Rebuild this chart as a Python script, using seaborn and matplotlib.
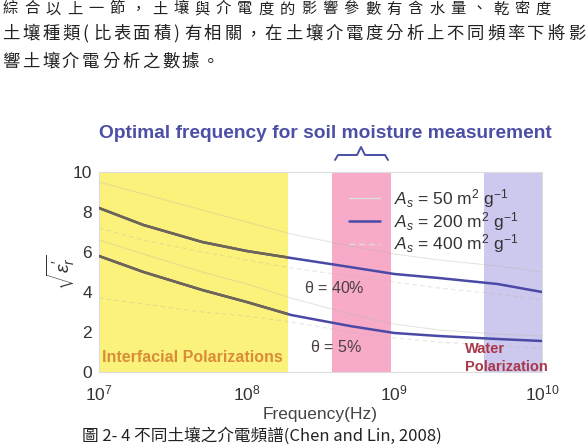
import numpy as np
import pandas as pd
import matplotlib
matplotlib.use("Agg")
import matplotlib.pyplot as plt
import seaborn as sns
from matplotlib.patches import Rectangle
from matplotlib.lines import Line2D

# ---------------- data ----------------
freq_hz = [1e7, 2e7, 5e7, 1e8, 2e8, 5e8, 1e9, 2e9, 5e9, 1e10]
eps_40_as200 = [8.2, 7.35, 6.5, 6.05, 5.7, 5.25, 4.9, 4.7, 4.4, 4.0]
eps_5_as200 = [5.8, 5.0, 4.1, 3.5, 2.85, 2.3, 1.95, 1.8, 1.65, 1.55]
eps_40_as50 = [9.5, 8.9, 8.1, 7.5, 6.9, 6.3, 5.9, 5.6, 5.3, 5.0]
eps_40_as400 = [7.2, 6.6, 6.0, 5.6, 5.2, 4.8, 4.5, 4.2, 3.9, 3.6]
eps_5_as50 = [6.6, 5.9, 5.0, 4.4, 3.7, 2.9, 2.4, 2.1, 1.9, 1.8]
eps_5_as400 = [3.7, 3.4, 3.0, 2.8, 2.5, 2.0, 1.7, 1.5, 1.3, 1.2]

band_interfacial = (1e7, 1.9e8)
band_optimal = (3.8e8, 9.5e8)
band_water = (4.05e9, 1e10)

xtick_vals = [1e7, 1e8, 1e9, 1e10]
xtick_labels = [r"$10^{7}$", r"$10^{8}$", r"$10^{9}$", r"$10^{10}$"]
ytick_vals = [0, 2, 4, 6, 8, 10]

legend_labels = [r"$A_s$ = 50 m$^2$ g$^{-1}$",
                 r"$A_s$ = 200 m$^2$ g$^{-1}$",
                 r"$A_s$ = 400 m$^2$ g$^{-1}$"]

title_text = "Optimal frequency for soil moisture measurement"
para_line1 = "綜合以上一節，土壤與介電度的影響參數有含水量、乾密度"
para_line2 = "土壤種類(比表面積)有相關，在土壤介電度分析上不同頻率下將影"
para_line3 = "響土壤介電分析之數據。"
caption = "圖 2- 4 不同土壤之介電頻譜(Chen and Lin, 2008)"

# ---------------- style ----------------
sns.set_style("white")
plt.rcParams["font.family"] = ["Liberation Sans", "DejaVu Sans"]
plt.rcParams["mathtext.fontset"] = "custom"
plt.rcParams["mathtext.rm"] = "Liberation Sans"
plt.rcParams["mathtext.it"] = "Liberation Sans:italic"
plt.rcParams["mathtext.bf"] = "Liberation Sans:bold"

W, H = 586, 447
fig = plt.figure(figsize=(W / 100, H / 100), dpi=100)
fig.patch.set_facecolor("white")

left_px, right_px, top_px, bottom_px = 99, 542, 172, 372
ax = fig.add_axes([left_px / W, 1 - bottom_px / H,
                   (right_px - left_px) / W, (bottom_px - top_px) / H])
ax.set_xscale("log")
ax.set_xlim(1e7, 1e10)
ax.set_ylim(0, 10)

# bands
ax.axvspan(*band_interfacial, color="#fbf27c", lw=0, zorder=0)
ax.axvspan(*band_optimal, color="#f7abc9", lw=0, zorder=0)
ax.axvspan(*band_water, color="#cdc8ee", lw=0, zorder=0)

df = pd.DataFrame({"f": freq_hz,
                   "a40_200": eps_40_as200, "a5_200": eps_5_as200,
                   "a40_50": eps_40_as50, "a40_400": eps_40_as400,
                   "a5_50": eps_5_as50, "a5_400": eps_5_as400})

faint = "#b8b5a6"
for col in ["a40_50", "a5_50"]:
    sns.lineplot(data=df, x="f", y=col, ax=ax, color=faint, lw=0.8,
                 alpha=0.35, zorder=2)
for col in ["a40_400", "a5_400"]:
    sns.lineplot(data=df, x="f", y=col, ax=ax, color=faint, lw=0.8,
                 alpha=0.35, ls=(0, (4, 3)), zorder=2)

blue = "#4a4aa6"
for col in ["a40_200", "a5_200"]:
    sns.lineplot(data=df, x="f", y=col, ax=ax, color=blue, lw=1.8, zorder=3)
    sns.lineplot(data=df, x="f", y=col, ax=ax, color="#6e6553", lw=1.8, zorder=4)
    clip = Rectangle((band_interfacial[0], 0),
                     band_interfacial[1] - band_interfacial[0], 10,
                     transform=ax.transData)
    ax.lines[-1].set_clip_path(clip)

# axes look
for s in ax.spines.values():
    s.set_color("#dddddd")
    s.set_linewidth(0.8)
ax.set_xticks(xtick_vals)
ax.set_xticklabels(xtick_labels)
ax.set_yticks(ytick_vals)
ax.xaxis.set_minor_locator(matplotlib.ticker.NullLocator())
ax.tick_params(axis="both", length=0, labelsize=12.5, colors="#333333")
ax.tick_params(axis="x", pad=8)
ax.tick_params(axis="y", pad=5)
ax.set_xlabel("Frequency(Hz)", fontsize=12.5, color="#444444", labelpad=3)
ax.set_ylabel(r"$\sqrt{\varepsilon_r^{\prime}}$", fontsize=14, color="#333333",
              labelpad=-3)

# annotations
ax.text(2.45e8, 4.2, r"$\mathrm{\theta}$ = 40%", fontsize=11.5, color="#4a4040",
        va="center", ha="left", zorder=5)
ax.text(2.7e8, 1.25, r"$\mathrm{\theta}$ = 5%", fontsize=11.5, color="#4a4040",
        va="center", ha="left", zorder=5)
ax.text(1.05e7, 0.75, "Interfacial Polarizations", fontsize=11.5,
        fontweight="bold", color="#d98c3a", va="center", ha="left", zorder=5)
ax.text(3.0e9, 1.15, "Water", fontsize=10.5, fontweight="bold",
        color="#a8384a", va="center", ha="left", zorder=5)
ax.text(3.0e9, 0.25, "Polarization", fontsize=10.5, fontweight="bold",
        color="#a8384a", va="center", ha="left", zorder=5)

handles = [Line2D([], [], color="#dcdcdc", lw=1.0),
           Line2D([], [], color=blue, lw=1.8),
           Line2D([], [], color="#dcdcdc", lw=1.0, ls=(0, (4, 3)))]
leg = ax.legend(handles, legend_labels, loc="upper right",
                bbox_to_anchor=(0.98, 1.0), fontsize=12.5, frameon=True,
                framealpha=0, edgecolor="#dddddd", fancybox=False,
                labelspacing=0.0, handlelength=1.8, handletextpad=0.8,
                borderpad=0.35)
for t in leg.get_texts():
    t.set_color("#333333")

# title and brace
fig.text(325 / W, 1 - 133 / H, title_text, fontsize=13.8, fontweight="bold",
         color="#4b4fa6", ha="center", va="center")
bx = [335, 338, 357, 361, 365, 385, 388]
by = [160, 155, 155, 147, 155, 155, 160]
fig.add_artist(Line2D([x / W for x in bx], [1 - y / H for y in by],
                      transform=fig.transFigure, color="#4b4fa6", lw=1.4))

# surrounding document text (scanned page)
cjk = ["Noto Sans CJK TC", "DejaVu Sans"]


def put_line(text, x0, yc, pitch, size):
    x = x0
    for ch in text:
        fig.text(x / W, 1 - yc / H, ch, fontsize=size, color="#222222",
                 family=cjk, ha="left", va="center")
        x += pitch * (0.5 if ch in "()" else 1.0)


put_line(para_line1, 3, 9, 21.3, 11)
put_line(para_line2, 2, 34, 20.2, 12.5)
put_line(para_line3, 2, 62, 20.0, 12.5)
fig.text(82 / W, 1 - 436 / H, caption, fontsize=12, color="#222222",
         family=cjk, ha="left", va="center")

fig.savefig("out.png", dpi=100, facecolor="white")
